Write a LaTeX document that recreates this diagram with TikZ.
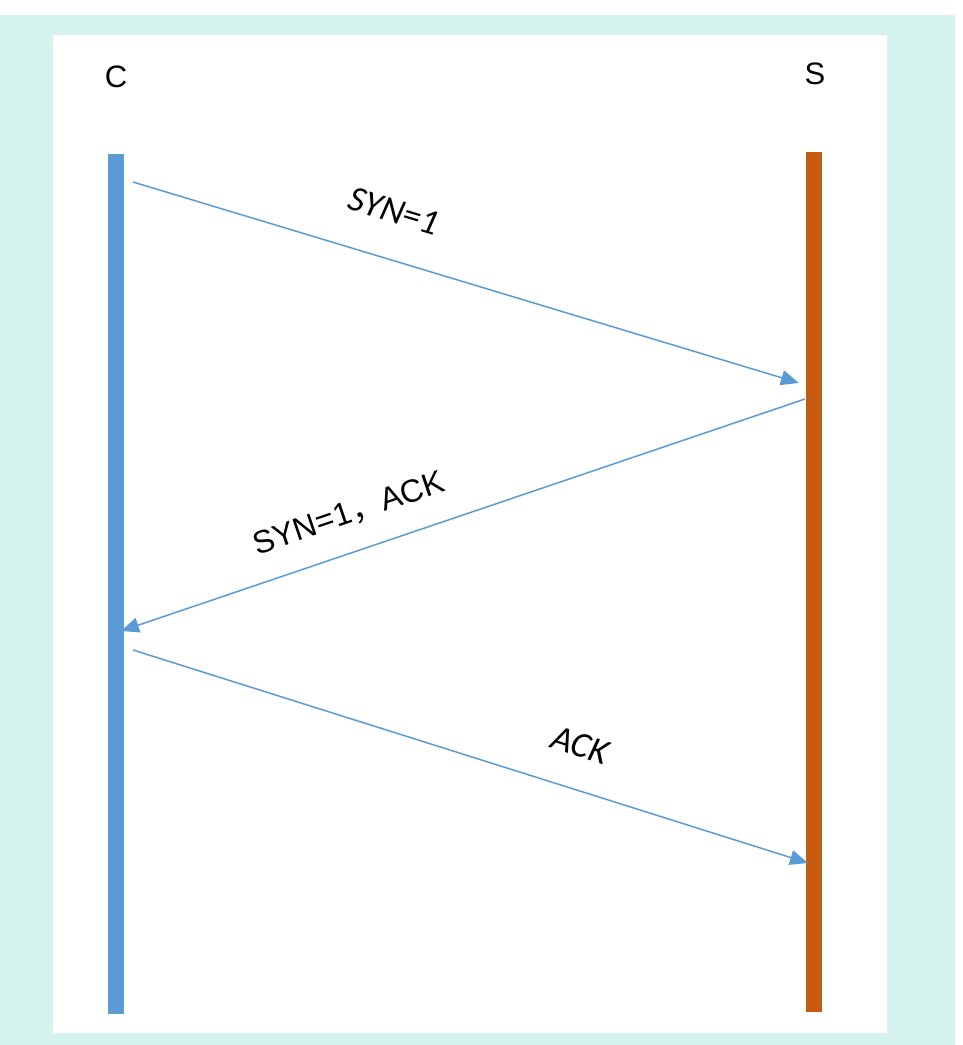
\documentclass[tikz,border=0pt]{standalone}
\usepackage{fontspec}
\setmainfont{Liberation Sans}
\newfontfamily\cjk{Noto Sans CJK SC}
\newfontfamily\calib{Carlito}
\usetikzlibrary{arrows.meta}
\definecolor{bgcyan}{HTML}{D4F3EE}
\definecolor{cblue}{HTML}{5B9BD5}
\definecolor{sorange}{HTML}{C55A11}
\definecolor{msgblue}{HTML}{5B9BD5}
\begin{document}
\begin{tikzpicture}[x=1pt,y=-1pt,
  msg/.style={draw=msgblue,line width=1.5pt,-{Triangle[length=18pt,width=15pt]}},
  lbl/.style={text=black,inner sep=0pt},
  head/.style={font=\fontsize{31}{33}\selectfont,text=black,inner sep=0pt}]
\useasboundingbox (0,0) rectangle (963,1045);
\fill[white] (0,0) rectangle (963,1045);
\fill[bgcyan] (0,15) rectangle (955,1045);
\fill[white] (53,35) rectangle (887,1033);
% lifelines
\fill[cblue] (108,154) rectangle (124,1014);
\fill[sorange] (806,152) rectangle (822,1012);
\node[head] (C) at (116,77) {C};
\node[head] (S) at (815,74) {S};
% message endpoints
\coordinate (c1) at (133,182);
\coordinate (s1) at (799,383);
\coordinate (s2) at (805,399);
\coordinate (c2) at (121,631);
\coordinate (c3) at (133,650);
\coordinate (s3) at (808,863);
\draw[msg] (c1) -- (s1);
\draw[msg] (s2) -- (c2);
\draw[msg] (c3) -- (s3);
\node[lbl,rotate=-16.7,font=\calib\itshape\fontsize{36}{38}\selectfont] (l1) at (394,211) {SYN=1};
\node[lbl,rotate=18.7,font=\fontsize{32}{34}\selectfont] (l2) at (349,514) {SYN=1{\cjk ，}ACK};
\node[lbl,rotate=-17.5,font=\calib\itshape\fontsize{36}{38}\selectfont] (l3) at (580,745) {ACK};
\end{tikzpicture}
\end{document}
